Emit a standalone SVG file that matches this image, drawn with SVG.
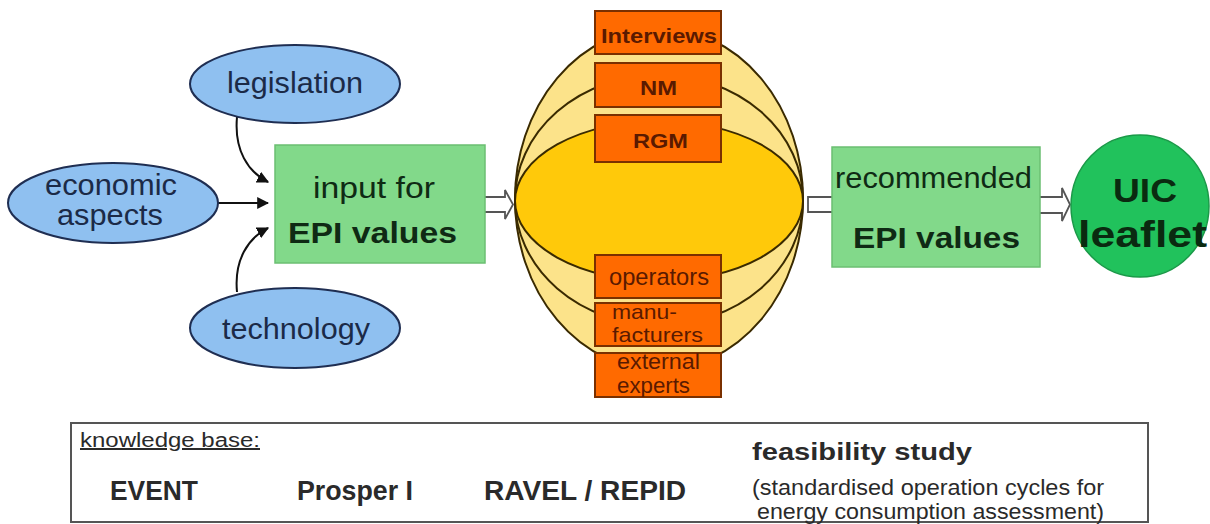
<svg xmlns="http://www.w3.org/2000/svg" width="1210" height="524" viewBox="0 0 1210 524">
  <style>
    text { font-family: "Liberation Sans", Arial, sans-serif; }
    .blue { fill: #8FC0F0; stroke: #1F2E52; stroke-width: 2; }
    .bluet { fill: #1B2A47; font-size: 29px; }
    .green { fill: #82D98A; stroke: #6BBF72; stroke-width: 1.5; }
    .gt { fill: #0F2A14; font-size: 30px; }
    .b { font-weight: bold; }
    .orange { fill: #FF6A00; stroke: #7A3000; stroke-width: 2; }
    .ot { fill: #5A1A00; }
    .ring { fill: #FCE38A; stroke: #3A2A00; stroke-width: 2; }
    .core { fill: #FFC90A; stroke: #3A2A00; stroke-width: 2; }
    .hollow { fill: #FFFFFF; stroke: #555555; stroke-width: 1.8; stroke-linejoin: miter; }
    .conn { fill: none; stroke: #111111; stroke-width: 2; }
    .kb { fill: #2A2A2A; }
  </style>
  <defs>
    <marker id="ah" viewBox="0 0 10 10" refX="9" refY="5" markerWidth="6" markerHeight="6" orient="auto" markerUnits="strokeWidth">
      <path d="M0,0 L10,5 L0,10 Z" fill="#111111"/>
    </marker>
    <clipPath id="extclip"><rect x="595" y="353" width="126" height="44"/></clipPath>
  </defs>

  <g id="connectors">
    <path class="conn" d="M237,117 C234,150 248,172 268,182" marker-end="url(#ah)"/>
    <path class="conn" d="M218,203 L268,203" marker-end="url(#ah)"/>
    <path class="conn" d="M237,292 C234,260 248,238 268,228" marker-end="url(#ah)"/>
    <path class="hollow" d="M458,197 L505,197 L505,190 L513,204.5 L505,219 L505,212 L458,212 Z"/>
    <path class="hollow" d="M808,197 L856,197 L856,189 L863,204.5 L856,220 L856,212 L808,212 Z"/>
    <path class="hollow" d="M1013,197 L1062,197 L1062,188 L1070,204.5 L1062,221 L1062,213 L1013,213 Z"/>
  </g>

  <g id="legislation">
    <ellipse class="blue" cx="295" cy="84" rx="105" ry="39"/>
    <text class="bluet" x="227" y="93" textLength="136" lengthAdjust="spacingAndGlyphs">legislation</text>
  </g>
  <g id="economic-aspects">
    <ellipse class="blue" cx="113" cy="203" rx="105" ry="40"/>
    <text class="bluet" x="45" y="195" font-size="26" textLength="132" lengthAdjust="spacingAndGlyphs">economic</text>
    <text class="bluet" x="57" y="225" font-size="26" textLength="106" lengthAdjust="spacingAndGlyphs">aspects</text>
  </g>
  <g id="technology">
    <ellipse class="blue" cx="295" cy="328" rx="105" ry="40"/>
    <text class="bluet" x="222" y="339" textLength="148" lengthAdjust="spacingAndGlyphs">technology</text>
  </g>

  <g id="input-epi">
    <rect class="green" x="275" y="145" width="210" height="118"/>
    <text class="gt" x="313" y="198" textLength="122" lengthAdjust="spacingAndGlyphs">input for</text>
    <text class="gt b" x="288" y="243" textLength="169" lengthAdjust="spacingAndGlyphs">EPI values</text>
  </g>

  <g id="consultation">
    <ellipse class="ring" cx="659" cy="199" rx="144" ry="171"/>
    <ellipse class="ring" cx="659" cy="200" rx="144" ry="125"/>
    <ellipse class="core" cx="659" cy="201" rx="144" ry="80"/>
  </g>

  <g id="interviews">
    <rect class="orange" x="595" y="11" width="126" height="43"/>
    <text class="ot b" x="601" y="43" font-size="21" textLength="116" lengthAdjust="spacingAndGlyphs">Interviews</text>
  </g>
  <g id="nm">
    <rect class="orange" x="595" y="63" width="126" height="44"/>
    <text class="ot b" x="640" y="95" font-size="21" textLength="37" lengthAdjust="spacingAndGlyphs">NM</text>
  </g>
  <g id="rgm">
    <rect class="orange" x="595" y="115" width="126" height="47"/>
    <text class="ot b" x="633" y="148" font-size="21" textLength="55" lengthAdjust="spacingAndGlyphs">RGM</text>
  </g>
  <g id="operators">
    <rect class="orange" x="595" y="255" width="126" height="43"/>
    <text class="ot" x="609" y="285" font-size="24" textLength="100" lengthAdjust="spacingAndGlyphs">operators</text>
  </g>
  <g id="manufacturers">
    <rect class="orange" x="595" y="303" width="126" height="43"/>
    <text class="ot" x="612" y="319" font-size="21" textLength="65" lengthAdjust="spacingAndGlyphs">manu-</text>
    <text class="ot" x="612" y="342" font-size="21" textLength="91" lengthAdjust="spacingAndGlyphs">facturers</text>
  </g>
  <g id="external-experts">
    <rect class="orange" x="595" y="353" width="126" height="44"/>
    <g clip-path="url(#extclip)">
      <text class="ot" x="617" y="369" font-size="22" textLength="83" lengthAdjust="spacingAndGlyphs">external</text>
      <text class="ot" x="617" y="393" font-size="22" textLength="73" lengthAdjust="spacingAndGlyphs">experts</text>
    </g>
  </g>

  <g id="recommended-epi">
    <rect class="green" x="832" y="147" width="208" height="120"/>
    <text class="gt" x="835" y="188" textLength="197" lengthAdjust="spacingAndGlyphs">recommended</text>
    <text class="gt b" x="853" y="248" textLength="167" lengthAdjust="spacingAndGlyphs">EPI values</text>
  </g>

  <g id="uic-leaflet">
    <ellipse cx="1140" cy="206" rx="69" ry="71" fill="#21C25C" stroke="#1A9A48" stroke-width="1.5"/>
    <text class="b" x="1113" y="202" font-size="34" fill="#0A2A10" textLength="64" lengthAdjust="spacingAndGlyphs">UIC</text>
    <text class="b" x="1078" y="247" font-size="37" fill="#0A2A10" textLength="129" lengthAdjust="spacingAndGlyphs">leaflet</text>
  </g>

  <g id="knowledge-base">
    <rect x="71" y="423" width="1077" height="99" fill="#FFFFFF" stroke="#555555" stroke-width="2"/>
    <text class="kb" x="80" y="447" font-size="20" text-decoration="underline" textLength="180" lengthAdjust="spacingAndGlyphs">knowledge base:</text>
    <text class="kb b" x="110" y="500" font-size="27" textLength="88" lengthAdjust="spacingAndGlyphs">EVENT</text>
    <text class="kb b" x="297" y="500" font-size="27" textLength="116" lengthAdjust="spacingAndGlyphs">Prosper I</text>
    <text class="kb b" x="484" y="500" font-size="27" textLength="202" lengthAdjust="spacingAndGlyphs">RAVEL / REPID</text>
    <text class="kb b" x="752" y="460" font-size="23" textLength="220" lengthAdjust="spacingAndGlyphs">feasibility study</text>
    <text class="kb" x="752" y="495" font-size="22" textLength="352" lengthAdjust="spacingAndGlyphs">(standardised operation cycles for</text>
    <text class="kb" x="757" y="519" font-size="22" textLength="347" lengthAdjust="spacingAndGlyphs">energy consumption assessment)</text>
  </g>
</svg>
